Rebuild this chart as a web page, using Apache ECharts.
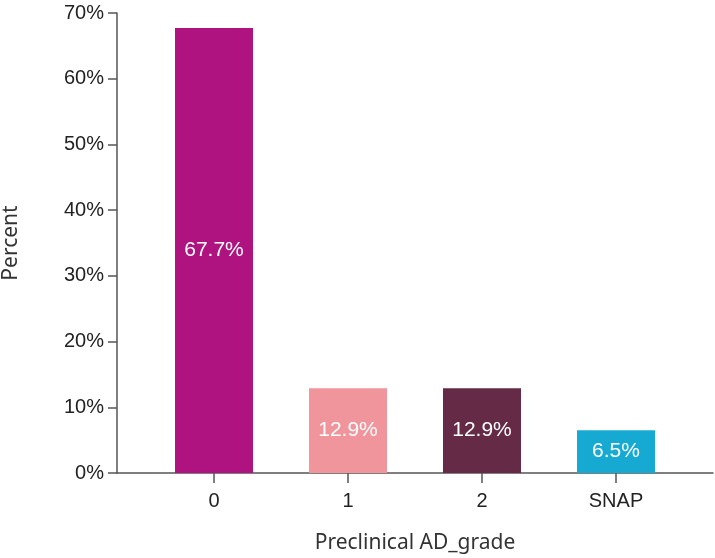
<!DOCTYPE html>
<html>
<head>
<meta charset="utf-8">
<script src="https://cdn.jsdelivr.net/npm/echarts@6/dist/echarts.min.js"></script>
<style>
html,body{margin:0;padding:0;background:#fff;}
#chart{width:715px;height:558px;}
</style>
</head>
<body>
<div id="chart"></div>
<script>
const categories = ['0', '1', '2', 'SNAP'];
const percentValues = [67.7, 12.9, 12.9, 6.5];
const barColors = ['#AF1380', '#F1959D', '#652A46', '#16AAD2'];
const yTicks = [0, 10, 20, 30, 40, 50, 60, 70];

const chart = echarts.init(document.getElementById('chart'));
const positions = categories.map((c, i) => i);
const option = {
  animation: false,
  backgroundColor: '#fff',
  grid: { left: 117, right: 2, top: 13, bottom: 85, containLabel: false, outerBoundsMode: 'none' },
  xAxis: {
    type: 'value',
    min: -0.724,
    max: 3.724,
    name: 'Preclinical AD_grade',
    nameLocation: 'middle',
    nameGap: 60,
    nameTextStyle: { fontFamily: 'Noto Sans', fontSize: 21, color: '#333' },
    axisLine: { show: true, onZero: false, lineStyle: { color: '#555', width: 1.5 } },
    axisTick: { show: true, inside: false, length: 10, customValues: positions, lineStyle: { color: '#555', width: 1.5 } },
    axisLabel: {
      customValues: positions,
      formatter: v => categories[Math.round(v)],
      fontFamily: 'Liberation Sans', fontSize: 20, color: '#222', margin: 18
    },
    splitLine: { show: false }
  },
  yAxis: {
    type: 'value',
    min: 0,
    max: 70,
    interval: 10,
    name: 'Percent',
    nameLocation: 'middle',
    nameGap: 95,
    nameTextStyle: { fontFamily: 'Noto Sans', fontSize: 21, color: '#333' },
    axisLine: { show: true, onZero: false, lineStyle: { color: '#555', width: 1.5 } },
    axisTick: { show: true, inside: false, length: 9, lineStyle: { color: '#555', width: 1.5 } },
    axisLabel: {
      formatter: '{value}%',
      fontFamily: 'Liberation Sans', fontSize: 20, color: '#222', margin: 13
    },
    splitLine: { show: false }
  },
  series: [{
    type: 'bar',
    barWidth: 78,
    data: percentValues.map((v, i) => ({
      value: [positions[i], v],
      itemStyle: { color: barColors[i] }
    })),
    label: {
      show: true,
      position: 'inside',
      formatter: p => p.value[1].toFixed(1) + '%',
      fontFamily: 'Liberation Sans',
      fontSize: 21,
      color: '#fff'
    }
  }]
};
chart.setOption(option);
</script>
</body>
</html>
